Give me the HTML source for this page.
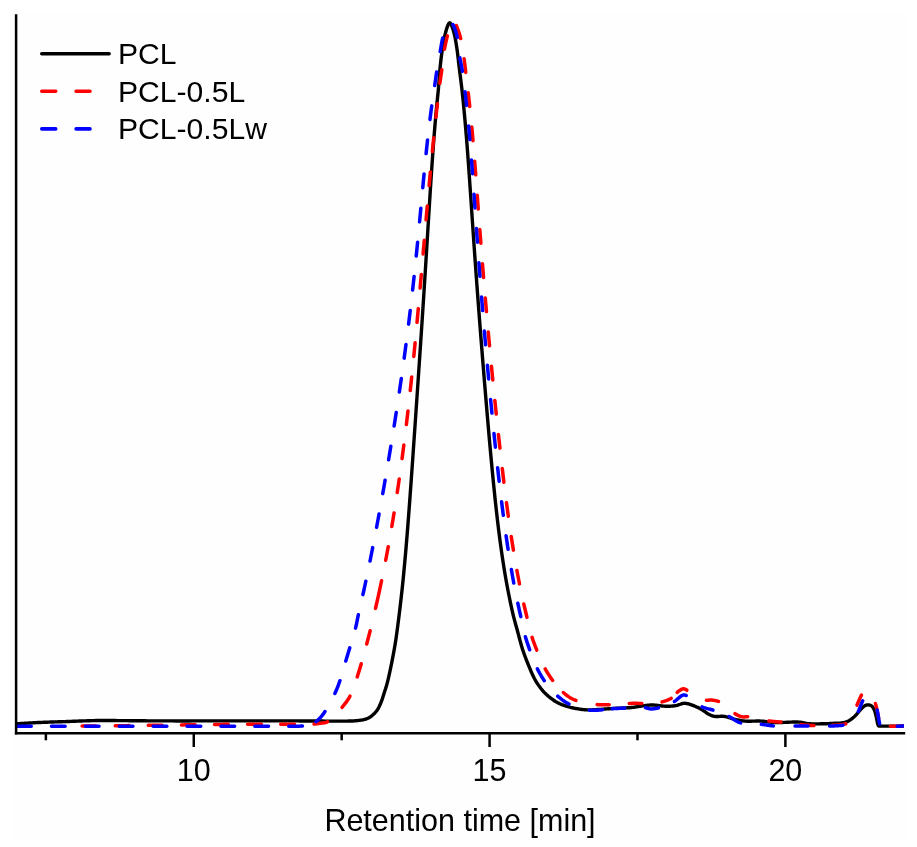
<!DOCTYPE html>
<html><head><meta charset="utf-8"><title>GPC</title>
<style>
html,body{margin:0;padding:0;background:#fff;}
body{width:917px;height:847px;overflow:hidden;}
svg{display:block;will-change:transform;}
text{font-family:"Liberation Sans",sans-serif;fill:#000;}
</style></head><body>
<svg width="917" height="847" viewBox="0 0 917 847">
<rect width="917" height="847" fill="#fff"/>
<rect x="13" y="13" width="894" height="826.5" fill="#fefefe"/>
<defs><clipPath id="plot"><rect x="15" y="0" width="889.1" height="740"/></clipPath></defs>
<g clip-path="url(#plot)" fill="none" stroke-linejoin="round" stroke-linecap="round">
<path d="M16.30 723.80 L17.72 723.72 L19.14 723.63 L20.56 723.55 L21.97 723.46 L23.39 723.38 L24.81 723.29 L26.23 723.20 L27.65 723.12 L29.07 723.03 L30.49 722.95 L31.90 722.87 L33.32 722.79 L34.74 722.71 L36.16 722.64 L37.58 722.57 L39.00 722.50 L40.62 722.43 L42.25 722.36 L43.87 722.30 L45.50 722.24 L47.12 722.18 L48.75 722.12 L50.37 722.07 L52.00 722.01 L53.62 721.96 L55.25 721.91 L56.87 721.86 L58.50 721.81 L60.12 721.76 L61.75 721.71 L63.37 721.65 L65.00 721.60 L67.06 721.53 L69.12 721.45 L71.19 721.38 L73.25 721.30 L75.31 721.22 L77.37 721.14 L79.44 721.06 L81.50 720.99 L83.56 720.91 L85.62 720.84 L87.69 720.77 L89.75 720.70 L91.81 720.64 L93.87 720.59 L95.94 720.54 L98.00 720.50 L99.37 720.48 L100.75 720.46 L102.12 720.46 L103.50 720.45 L104.87 720.45 L106.25 720.46 L107.62 720.47 L109.00 720.48 L110.37 720.50 L111.75 720.51 L113.12 720.53 L114.50 720.55 L115.87 720.56 L117.25 720.58 L118.62 720.59 L120.00 720.60 L122.50 720.62 L125.00 720.64 L127.50 720.66 L130.00 720.68 L132.50 720.70 L135.00 720.72 L137.50 720.75 L140.00 720.77 L142.50 720.79 L145.00 720.81 L147.50 720.83 L150.00 720.85 L152.50 720.87 L155.00 720.88 L157.50 720.89 L160.00 720.90 L164.12 720.91 L168.25 720.92 L172.37 720.92 L176.50 720.93 L180.62 720.93 L184.75 720.93 L188.87 720.93 L193.00 720.92 L197.12 720.92 L201.25 720.92 L205.37 720.91 L209.50 720.91 L213.62 720.91 L217.75 720.90 L221.87 720.90 L226.00 720.90 L230.00 720.90 L234.00 720.90 L238.00 720.90 L242.00 720.89 L246.00 720.89 L250.00 720.89 L254.00 720.89 L258.00 720.88 L262.00 720.88 L266.00 720.88 L270.00 720.88 L274.00 720.88 L278.00 720.88 L282.00 720.89 L286.00 720.89 L290.00 720.90 L292.50 720.91 L295.00 720.91 L297.50 720.92 L300.00 720.94 L302.50 720.95 L305.00 720.96 L307.50 720.98 L310.00 720.99 L312.50 721.01 L315.00 721.02 L317.50 721.04 L320.00 721.05 L322.50 721.07 L325.00 721.08 L327.50 721.09 L330.00 721.10 L330.94 721.10 L331.88 721.11 L332.81 721.11 L333.75 721.12 L334.69 721.12 L335.63 721.12 L336.56 721.13 L337.50 721.13 L338.44 721.13 L339.38 721.13 L340.31 721.13 L341.25 721.13 L342.19 721.12 L343.13 721.12 L344.06 721.11 L345.00 721.10 L345.63 721.09 L346.25 721.09 L346.88 721.08 L347.50 721.08 L348.13 721.07 L348.76 721.07 L349.38 721.06 L350.01 721.05 L350.63 721.03 L351.26 721.01 L351.88 720.99 L352.51 720.97 L353.13 720.93 L353.76 720.90 L354.38 720.85 L355.00 720.80 L355.64 720.74 L356.27 720.69 L356.91 720.63 L357.55 720.57 L358.19 720.50 L358.83 720.43 L359.47 720.36 L360.10 720.28 L360.74 720.19 L361.37 720.09 L362.00 719.99 L362.63 719.87 L363.26 719.75 L363.87 719.61 L364.49 719.46 L365.10 719.30 L365.50 719.18 L365.90 719.06 L366.29 718.92 L366.69 718.77 L367.08 718.61 L367.47 718.44 L367.86 718.26 L368.24 718.08 L368.62 717.88 L368.99 717.68 L369.36 717.47 L369.72 717.25 L370.08 717.02 L370.42 716.79 L370.77 716.55 L371.10 716.30 L371.52 715.98 L371.93 715.64 L372.35 715.30 L372.75 714.95 L373.16 714.59 L373.55 714.23 L373.95 713.86 L374.33 713.47 L374.71 713.09 L375.08 712.69 L375.44 712.29 L375.79 711.88 L376.13 711.47 L376.47 711.05 L376.79 710.63 L377.10 710.20 L377.41 709.74 L377.71 709.28 L378.00 708.81 L378.28 708.32 L378.55 707.83 L378.82 707.34 L379.07 706.84 L379.31 706.33 L379.55 705.82 L379.79 705.31 L380.01 704.79 L380.24 704.27 L380.46 703.75 L380.67 703.23 L380.89 702.72 L381.10 702.20 L381.32 701.65 L381.53 701.10 L381.74 700.54 L381.94 699.99 L382.13 699.43 L382.32 698.86 L382.51 698.30 L382.69 697.74 L382.87 697.17 L383.04 696.60 L383.22 696.03 L383.39 695.47 L383.57 694.90 L383.74 694.33 L383.92 693.77 L384.10 693.20 L384.30 692.57 L384.50 691.94 L384.71 691.31 L384.91 690.69 L385.11 690.06 L385.31 689.43 L385.52 688.80 L385.71 688.17 L385.91 687.54 L386.11 686.91 L386.30 686.27 L386.49 685.64 L386.67 685.01 L386.85 684.37 L387.03 683.74 L387.20 683.10 L387.41 682.29 L387.62 681.49 L387.82 680.68 L388.02 679.87 L388.21 679.06 L388.40 678.24 L388.59 677.43 L388.78 676.62 L388.96 675.81 L389.14 674.99 L389.32 674.18 L389.50 673.36 L389.68 672.55 L389.85 671.73 L390.03 670.92 L390.20 670.10 L390.40 669.16 L390.60 668.22 L390.79 667.28 L390.99 666.33 L391.18 665.39 L391.37 664.45 L391.56 663.50 L391.75 662.56 L391.94 661.62 L392.12 660.67 L392.30 659.73 L392.49 658.78 L392.67 657.84 L392.85 656.89 L393.02 655.95 L393.20 655.00 L393.37 654.06 L393.55 653.13 L393.72 652.19 L393.89 651.26 L394.07 650.32 L394.24 649.39 L394.40 648.45 L394.57 647.51 L394.73 646.57 L394.90 645.64 L395.06 644.70 L395.21 643.76 L395.36 642.82 L395.51 641.88 L395.66 640.94 L395.80 640.00 L396.04 638.38 L396.27 636.76 L396.50 635.13 L396.73 633.51 L396.95 631.89 L397.17 630.26 L397.39 628.64 L397.60 627.01 L397.81 625.39 L398.02 623.76 L398.23 622.13 L398.44 620.51 L398.64 618.88 L398.85 617.25 L399.05 615.63 L399.25 614.00 L399.46 612.25 L399.68 610.50 L399.89 608.75 L400.10 607.01 L400.31 605.26 L400.51 603.51 L400.71 601.76 L400.92 600.01 L401.12 598.26 L401.31 596.51 L401.51 594.76 L401.70 593.01 L401.90 591.25 L402.09 589.50 L402.27 587.75 L402.46 586.00 L402.64 584.25 L402.82 582.50 L403.00 580.75 L403.18 579.00 L403.35 577.26 L403.52 575.51 L403.69 573.76 L403.86 572.01 L404.02 570.26 L404.19 568.50 L404.35 566.75 L404.51 565.00 L404.67 563.25 L404.83 561.50 L404.99 559.75 L405.15 558.00 L405.31 556.25 L405.46 554.50 L405.62 552.75 L405.77 551.00 L405.92 549.25 L406.07 547.50 L406.21 545.75 L406.36 544.00 L406.51 542.25 L406.65 540.50 L406.79 538.75 L406.94 537.00 L407.08 535.25 L407.22 533.50 L407.36 531.75 L407.50 530.00 L407.64 528.25 L407.78 526.50 L407.92 524.75 L408.05 523.00 L408.19 521.25 L408.32 519.50 L408.46 517.75 L408.59 516.00 L408.72 514.25 L408.86 512.50 L408.99 510.75 L409.12 509.00 L409.25 507.25 L409.38 505.50 L409.51 503.75 L409.64 502.00 L409.77 500.25 L409.90 498.50 L410.03 496.75 L410.15 495.00 L410.28 493.25 L410.41 491.50 L410.53 489.75 L410.66 488.00 L410.79 486.25 L410.91 484.50 L411.04 482.75 L411.16 481.00 L411.29 479.25 L411.41 477.50 L411.53 475.75 L411.66 474.00 L411.78 472.25 L411.91 470.50 L412.03 468.75 L412.15 467.00 L412.28 465.25 L412.40 463.50 L412.52 461.75 L412.64 460.00 L412.77 458.25 L412.89 456.50 L413.01 454.75 L413.13 453.00 L413.25 451.25 L413.37 449.50 L413.50 447.75 L413.62 446.00 L413.74 444.25 L413.86 442.50 L413.98 440.75 L414.10 439.00 L414.22 437.25 L414.34 435.50 L414.46 433.75 L414.59 432.00 L414.71 430.25 L414.83 428.50 L414.95 426.75 L415.07 425.00 L415.19 423.25 L415.31 421.50 L415.43 419.75 L415.55 418.00 L415.67 416.25 L415.79 414.50 L415.91 412.75 L416.03 411.00 L416.15 409.25 L416.27 407.50 L416.39 405.75 L416.51 404.00 L416.63 402.25 L416.75 400.50 L416.87 398.75 L416.99 397.00 L417.11 395.25 L417.23 393.50 L417.35 391.75 L417.47 390.00 L417.58 388.25 L417.70 386.50 L417.82 384.75 L417.94 383.00 L418.06 381.25 L418.18 379.50 L418.30 377.75 L418.42 376.00 L418.54 374.25 L418.66 372.50 L418.77 370.75 L418.89 369.00 L419.01 367.25 L419.13 365.50 L419.25 363.75 L419.37 362.00 L419.48 360.25 L419.60 358.50 L419.72 356.75 L419.84 355.00 L419.95 353.25 L420.07 351.50 L420.19 349.75 L420.31 348.00 L420.42 346.25 L420.54 344.50 L420.66 342.75 L420.77 341.00 L420.89 339.25 L421.01 337.50 L421.12 335.75 L421.24 334.00 L421.36 332.25 L421.47 330.50 L421.59 328.75 L421.70 327.00 L421.82 325.25 L421.93 323.50 L422.05 321.75 L422.16 320.00 L422.28 318.25 L422.39 316.50 L422.51 314.75 L422.62 313.00 L422.74 311.25 L422.85 309.50 L422.96 307.75 L423.08 306.00 L423.19 304.25 L423.30 302.50 L423.42 300.75 L423.53 299.00 L423.64 297.25 L423.75 295.50 L423.87 293.75 L423.98 292.00 L424.09 290.25 L424.20 288.50 L424.31 286.75 L424.42 285.00 L424.54 283.25 L424.65 281.50 L424.76 279.75 L424.87 278.00 L424.98 276.25 L425.09 274.50 L425.20 272.75 L425.31 271.00 L425.42 269.25 L425.53 267.50 L425.64 265.75 L425.75 264.00 L425.86 262.25 L425.97 260.50 L426.07 258.75 L426.18 257.00 L426.29 255.25 L426.40 253.50 L426.51 251.75 L426.62 250.00 L426.73 248.25 L426.83 246.50 L426.94 244.75 L427.05 243.00 L427.16 241.25 L427.27 239.50 L427.37 237.75 L427.48 236.00 L427.59 234.25 L427.70 232.50 L427.80 230.75 L427.91 229.00 L428.02 227.25 L428.13 225.50 L428.24 223.75 L428.34 222.00 L428.45 220.25 L428.56 218.50 L428.67 216.75 L428.78 215.00 L428.88 213.25 L428.99 211.50 L429.10 209.75 L429.21 208.00 L429.32 206.25 L429.43 204.50 L429.54 202.75 L429.65 201.00 L429.76 199.25 L429.87 197.50 L429.98 195.75 L430.09 194.00 L430.20 192.25 L430.31 190.50 L430.42 188.75 L430.54 187.00 L430.65 185.25 L430.76 183.50 L430.87 181.75 L430.99 180.00 L431.10 178.25 L431.22 176.50 L431.33 174.75 L431.45 173.00 L431.56 171.25 L431.68 169.50 L431.80 167.75 L431.92 166.00 L432.04 164.25 L432.16 162.50 L432.28 160.75 L432.40 159.00 L432.53 157.25 L432.65 155.50 L432.77 153.75 L432.90 152.00 L433.02 150.25 L433.15 148.50 L433.28 146.75 L433.41 145.00 L433.54 143.25 L433.67 141.50 L433.81 139.75 L433.94 138.00 L434.08 136.25 L434.22 134.50 L434.36 132.75 L434.50 131.00 L434.64 129.25 L434.79 127.50 L434.93 125.75 L435.08 124.00 L435.23 122.25 L435.38 120.50 L435.53 118.75 L435.68 117.00 L435.84 115.25 L435.99 113.50 L436.15 111.75 L436.30 110.00 L436.42 108.75 L436.54 107.50 L436.66 106.25 L436.79 105.00 L436.91 103.75 L437.04 102.50 L437.17 101.25 L437.30 100.00 L437.43 98.75 L437.56 97.50 L437.69 96.25 L437.82 95.00 L437.94 93.75 L438.07 92.50 L438.19 91.25 L438.30 90.00 L438.43 88.54 L438.55 87.09 L438.67 85.63 L438.78 84.18 L438.89 82.72 L439.00 81.26 L439.11 79.80 L439.22 78.35 L439.32 76.89 L439.44 75.43 L439.55 73.98 L439.67 72.52 L439.79 71.06 L439.92 69.61 L440.06 68.15 L440.20 66.70 L440.32 65.52 L440.45 64.33 L440.57 63.15 L440.70 61.96 L440.84 60.78 L440.97 59.60 L441.11 58.41 L441.26 57.23 L441.41 56.05 L441.56 54.87 L441.72 53.69 L441.89 52.51 L442.06 51.33 L442.23 50.15 L442.41 48.98 L442.60 47.80 L442.77 46.74 L442.95 45.68 L443.12 44.63 L443.30 43.57 L443.48 42.51 L443.67 41.45 L443.86 40.39 L444.06 39.34 L444.27 38.28 L444.48 37.23 L444.71 36.18 L444.94 35.14 L445.19 34.10 L445.45 33.06 L445.72 32.03 L446.00 31.00 L446.16 30.44 L446.34 29.82 L446.54 29.18 L446.75 28.51 L446.97 27.83 L447.20 27.14 L447.44 26.47 L447.69 25.82 L447.94 25.21 L448.20 24.64 L448.45 24.12 L448.71 23.68 L448.97 23.31 L449.22 23.03 L449.46 22.86 L449.70 22.80 L449.94 22.86 L450.19 23.03 L450.45 23.31 L450.71 23.68 L450.97 24.12 L451.24 24.64 L451.50 25.21 L451.76 25.82 L452.02 26.47 L452.27 27.14 L452.51 27.82 L452.74 28.50 L452.95 29.17 L453.15 29.82 L453.34 30.43 L453.50 31.00 L453.78 32.03 L454.05 33.06 L454.30 34.09 L454.54 35.13 L454.77 36.18 L454.99 37.23 L455.20 38.28 L455.40 39.33 L455.59 40.39 L455.78 41.45 L455.95 42.51 L456.13 43.57 L456.30 44.62 L456.47 45.68 L456.63 46.74 L456.80 47.80 L456.98 48.98 L457.15 50.15 L457.31 51.33 L457.46 52.51 L457.61 53.69 L457.75 54.87 L457.89 56.05 L458.03 57.24 L458.16 58.42 L458.29 59.60 L458.42 60.79 L458.55 61.97 L458.68 63.15 L458.82 64.34 L458.96 65.52 L459.10 66.70 L459.28 68.16 L459.46 69.61 L459.65 71.07 L459.83 72.52 L460.02 73.98 L460.20 75.44 L460.39 76.89 L460.58 78.35 L460.76 79.80 L460.95 81.26 L461.13 82.71 L461.31 84.17 L461.49 85.63 L461.66 87.08 L461.83 88.54 L462.00 90.00 L462.14 91.25 L462.28 92.50 L462.42 93.75 L462.55 95.00 L462.68 96.24 L462.81 97.49 L462.94 98.74 L463.07 99.99 L463.20 101.24 L463.32 102.50 L463.44 103.75 L463.56 105.00 L463.68 106.25 L463.80 107.50 L463.92 108.75 L464.04 110.00 L464.20 111.75 L464.36 113.50 L464.52 115.25 L464.68 117.00 L464.84 118.75 L465.00 120.50 L465.15 122.25 L465.30 124.00 L465.46 125.75 L465.61 127.50 L465.76 129.25 L465.91 131.00 L466.05 132.75 L466.20 134.50 L466.34 136.25 L466.49 138.00 L466.63 139.75 L466.77 141.50 L466.91 143.25 L467.04 145.00 L467.18 146.75 L467.31 148.50 L467.44 150.25 L467.57 152.00 L467.71 153.75 L467.83 155.50 L467.96 157.25 L468.09 159.00 L468.22 160.75 L468.35 162.50 L468.47 164.25 L468.60 166.00 L468.73 167.75 L468.85 169.50 L468.98 171.25 L469.10 173.00 L469.23 174.75 L469.35 176.50 L469.47 178.25 L469.59 180.00 L469.71 181.75 L469.83 183.50 L469.95 185.25 L470.07 187.00 L470.19 188.75 L470.31 190.50 L470.43 192.25 L470.55 194.00 L470.67 195.75 L470.79 197.50 L470.91 199.25 L471.03 201.00 L471.15 202.75 L471.27 204.50 L471.39 206.25 L471.51 208.00 L471.63 209.75 L471.75 211.50 L471.86 213.25 L471.98 215.00 L472.10 216.75 L472.22 218.50 L472.34 220.25 L472.46 222.00 L472.58 223.75 L472.70 225.50 L472.82 227.25 L472.94 229.00 L473.06 230.75 L473.18 232.50 L473.30 234.25 L473.42 236.00 L473.54 237.75 L473.66 239.50 L473.78 241.25 L473.90 243.00 L474.03 244.75 L474.15 246.50 L474.27 248.25 L474.39 250.00 L474.52 251.75 L474.64 253.50 L474.76 255.25 L474.89 257.00 L475.01 258.75 L475.14 260.50 L475.26 262.25 L475.38 264.00 L475.51 265.75 L475.63 267.50 L475.76 269.25 L475.89 271.00 L476.01 272.75 L476.14 274.50 L476.27 276.25 L476.39 278.00 L476.52 279.75 L476.65 281.50 L476.78 283.25 L476.91 285.00 L477.04 286.75 L477.17 288.50 L477.29 290.25 L477.42 292.00 L477.56 293.75 L477.69 295.50 L477.82 297.25 L477.95 299.00 L478.08 300.75 L478.21 302.50 L478.34 304.25 L478.48 306.00 L478.61 307.75 L478.74 309.50 L478.87 311.25 L479.01 313.00 L479.14 314.75 L479.28 316.50 L479.41 318.25 L479.55 320.00 L479.68 321.75 L479.82 323.50 L479.95 325.25 L480.09 327.00 L480.23 328.75 L480.36 330.50 L480.50 332.25 L480.64 334.00 L480.77 335.75 L480.91 337.50 L481.05 339.25 L481.19 341.00 L481.33 342.75 L481.47 344.50 L481.60 346.25 L481.74 348.00 L481.88 349.75 L482.02 351.50 L482.16 353.25 L482.30 355.00 L482.44 356.75 L482.58 358.50 L482.73 360.25 L482.87 362.00 L483.01 363.75 L483.15 365.50 L483.29 367.25 L483.43 369.00 L483.58 370.75 L483.72 372.50 L483.86 374.25 L484.01 376.00 L484.15 377.75 L484.29 379.50 L484.44 381.25 L484.58 383.00 L484.73 384.75 L484.87 386.50 L485.02 388.25 L485.16 390.00 L485.31 391.75 L485.45 393.50 L485.60 395.25 L485.75 397.00 L485.89 398.75 L486.04 400.50 L486.19 402.25 L486.33 404.00 L486.48 405.75 L486.63 407.50 L486.78 409.25 L486.93 411.00 L487.08 412.75 L487.22 414.50 L487.37 416.25 L487.52 418.00 L487.68 419.75 L487.83 421.50 L487.98 423.25 L488.13 425.00 L488.28 426.75 L488.43 428.50 L488.59 430.25 L488.74 432.00 L488.89 433.75 L489.05 435.50 L489.20 437.25 L489.35 439.00 L489.51 440.75 L489.67 442.50 L489.82 444.25 L489.98 446.00 L490.14 447.75 L490.30 449.50 L490.46 451.25 L490.62 453.00 L490.78 454.75 L490.94 456.50 L491.10 458.25 L491.26 460.00 L491.42 461.75 L491.59 463.50 L491.75 465.25 L491.91 467.00 L492.08 468.75 L492.25 470.50 L492.42 472.25 L492.59 474.00 L492.76 475.75 L492.93 477.50 L493.10 479.25 L493.27 481.00 L493.44 482.75 L493.62 484.50 L493.79 486.25 L493.97 488.00 L494.15 489.75 L494.33 491.50 L494.51 493.25 L494.69 495.00 L494.87 496.75 L495.06 498.50 L495.24 500.25 L495.43 502.00 L495.62 503.75 L495.81 505.50 L496.01 507.25 L496.20 509.00 L496.39 510.76 L496.59 512.51 L496.79 514.26 L496.99 516.01 L497.19 517.76 L497.39 519.51 L497.60 521.26 L497.80 523.01 L498.01 524.76 L498.23 526.50 L498.44 528.25 L498.66 530.00 L498.88 531.75 L499.10 533.50 L499.33 535.26 L499.55 537.01 L499.78 538.76 L500.01 540.51 L500.24 542.26 L500.48 544.01 L500.72 545.76 L500.96 547.51 L501.20 549.26 L501.45 551.01 L501.70 552.76 L501.95 554.51 L502.21 556.25 L502.47 558.00 L502.74 559.75 L503.00 561.51 L503.27 563.26 L503.55 565.01 L503.82 566.77 L504.10 568.52 L504.39 570.27 L504.67 572.02 L504.96 573.77 L505.26 575.52 L505.56 577.27 L505.86 579.02 L506.17 580.77 L506.48 582.51 L506.80 584.26 L507.12 586.00 L507.46 587.76 L507.79 589.51 L508.13 591.27 L508.48 593.02 L508.83 594.77 L509.18 596.53 L509.54 598.28 L509.90 600.03 L510.27 601.78 L510.64 603.53 L511.02 605.28 L511.40 607.02 L511.78 608.77 L512.17 610.51 L512.56 612.26 L512.96 614.00 L513.20 615.03 L513.45 616.05 L513.70 617.07 L513.96 618.09 L514.23 619.12 L514.50 620.13 L514.77 621.15 L515.05 622.17 L515.33 623.19 L515.61 624.20 L515.89 625.22 L516.18 626.23 L516.46 627.25 L516.74 628.27 L517.02 629.28 L517.30 630.30 L517.62 631.50 L517.94 632.69 L518.26 633.89 L518.57 635.09 L518.89 636.29 L519.20 637.49 L519.52 638.69 L519.84 639.89 L520.16 641.08 L520.49 642.28 L520.82 643.47 L521.16 644.66 L521.50 645.85 L521.86 647.04 L522.22 648.22 L522.60 649.40 L522.95 650.48 L523.32 651.55 L523.68 652.63 L524.06 653.70 L524.44 654.77 L524.83 655.83 L525.23 656.90 L525.63 657.96 L526.04 659.02 L526.45 660.08 L526.86 661.14 L527.28 662.19 L527.71 663.25 L528.14 664.30 L528.57 665.35 L529.00 666.40 L529.37 667.30 L529.74 668.20 L530.11 669.09 L530.49 669.99 L530.86 670.89 L531.24 671.79 L531.63 672.68 L532.02 673.58 L532.42 674.46 L532.82 675.35 L533.24 676.22 L533.67 677.09 L534.10 677.96 L534.56 678.81 L535.02 679.66 L535.50 680.50 L535.96 681.28 L536.43 682.05 L536.91 682.82 L537.41 683.59 L537.91 684.35 L538.42 685.11 L538.94 685.86 L539.47 686.60 L540.02 687.34 L540.57 688.06 L541.13 688.78 L541.71 689.49 L542.29 690.18 L542.88 690.87 L543.49 691.54 L544.10 692.20 L544.71 692.84 L545.34 693.46 L545.98 694.08 L546.62 694.69 L547.28 695.29 L547.95 695.88 L548.63 696.47 L549.32 697.04 L550.02 697.60 L550.73 698.15 L551.44 698.69 L552.16 699.21 L552.89 699.73 L553.62 700.23 L554.36 700.72 L555.10 701.20 L555.74 701.60 L556.40 701.98 L557.06 702.36 L557.73 702.72 L558.41 703.07 L559.09 703.41 L559.78 703.73 L560.48 704.05 L561.19 704.35 L561.89 704.65 L562.61 704.93 L563.32 705.20 L564.04 705.47 L564.76 705.72 L565.48 705.97 L566.20 706.20 L567.05 706.46 L567.91 706.71 L568.77 706.95 L569.63 707.17 L570.50 707.39 L571.38 707.59 L572.25 707.78 L573.13 707.97 L574.01 708.14 L574.90 708.31 L575.78 708.47 L576.66 708.63 L577.55 708.78 L578.43 708.92 L579.32 709.06 L580.20 709.20 L580.81 709.29 L581.41 709.38 L582.02 709.46 L582.63 709.53 L583.25 709.60 L583.86 709.66 L584.47 709.72 L585.09 709.77 L585.70 709.81 L586.31 709.84 L586.93 709.87 L587.54 709.89 L588.16 709.91 L588.77 709.91 L589.39 709.91 L590.00 709.90 L591.50 709.86 L593.00 709.80 L594.50 709.73 L596.00 709.65 L597.50 709.56 L599.00 709.46 L600.50 709.36 L602.00 709.25 L603.50 709.14 L605.00 709.03 L606.50 708.91 L608.00 708.80 L609.50 708.69 L611.00 708.59 L612.50 708.49 L614.00 708.40 L615.11 708.34 L616.21 708.29 L617.32 708.24 L618.43 708.19 L619.53 708.15 L620.64 708.11 L621.75 708.06 L622.86 708.02 L623.96 707.98 L625.07 707.93 L626.18 707.87 L627.28 707.82 L628.39 707.75 L629.49 707.68 L630.60 707.59 L631.70 707.50 L632.47 707.42 L633.24 707.34 L634.01 707.24 L634.78 707.13 L635.55 707.02 L636.32 706.90 L637.09 706.77 L637.85 706.64 L638.62 706.52 L639.39 706.39 L640.16 706.26 L640.92 706.14 L641.69 706.02 L642.46 705.90 L643.23 705.80 L644.00 705.70 L644.54 705.63 L645.08 705.57 L645.63 705.50 L646.17 705.44 L646.71 705.37 L647.26 705.31 L647.80 705.25 L648.35 705.20 L648.89 705.14 L649.44 705.10 L649.98 705.06 L650.52 705.03 L651.07 705.01 L651.61 705.00 L652.16 704.99 L652.70 705.00 L653.46 705.03 L654.23 705.07 L654.99 705.14 L655.75 705.21 L656.51 705.30 L657.27 705.39 L658.04 705.49 L658.80 705.59 L659.56 705.69 L660.32 705.79 L661.08 705.89 L661.85 705.97 L662.61 706.05 L663.37 706.12 L664.14 706.17 L664.90 706.20 L665.56 706.22 L666.21 706.23 L666.87 706.24 L667.53 706.24 L668.19 706.23 L668.85 706.22 L669.51 706.20 L670.17 706.18 L670.82 706.14 L671.48 706.11 L672.14 706.06 L672.79 706.00 L673.45 705.94 L674.10 705.87 L674.75 705.79 L675.40 705.70 L676.01 705.59 L676.62 705.46 L677.22 705.29 L677.82 705.10 L678.43 704.90 L679.03 704.69 L679.63 704.48 L680.23 704.26 L680.83 704.06 L681.42 703.86 L682.02 703.69 L682.62 703.54 L683.21 703.42 L683.81 703.34 L684.40 703.29 L685.00 703.30 L685.71 703.36 L686.43 703.45 L687.14 703.57 L687.85 703.73 L688.57 703.91 L689.28 704.11 L689.99 704.34 L690.71 704.58 L691.42 704.84 L692.12 705.11 L692.83 705.38 L693.53 705.67 L694.23 705.95 L694.92 706.24 L695.61 706.52 L696.30 706.80 L696.76 706.99 L697.21 707.19 L697.66 707.40 L698.11 707.62 L698.55 707.84 L698.99 708.07 L699.43 708.31 L699.87 708.56 L700.30 708.81 L700.73 709.06 L701.16 709.31 L701.59 709.57 L702.02 709.83 L702.45 710.09 L702.87 710.34 L703.30 710.60 L703.63 710.81 L703.96 711.02 L704.29 711.24 L704.61 711.47 L704.93 711.70 L705.25 711.93 L705.56 712.16 L705.88 712.40 L706.20 712.63 L706.52 712.86 L706.84 713.08 L707.16 713.30 L707.49 713.52 L707.82 713.72 L708.16 713.92 L708.50 714.10 L708.86 714.28 L709.23 714.47 L709.59 714.65 L709.97 714.83 L710.34 715.01 L710.72 715.18 L711.09 715.34 L711.48 715.50 L711.86 715.65 L712.25 715.80 L712.63 715.93 L713.02 716.05 L713.42 716.16 L713.81 716.25 L714.20 716.33 L714.60 716.40 L715.19 716.47 L715.78 716.51 L716.37 716.53 L716.97 716.53 L717.58 716.51 L718.18 716.48 L718.79 716.44 L719.39 716.40 L720.00 716.36 L720.61 716.32 L721.21 716.29 L721.81 716.27 L722.42 716.27 L723.01 716.29 L723.61 716.33 L724.20 716.40 L724.87 716.51 L725.53 716.64 L726.19 716.79 L726.85 716.96 L727.50 717.14 L728.15 717.33 L728.81 717.54 L729.46 717.75 L730.11 717.96 L730.76 718.17 L731.41 718.38 L732.07 718.58 L732.72 718.78 L733.38 718.97 L734.04 719.14 L734.70 719.30 L735.35 719.45 L736.00 719.59 L736.65 719.73 L737.30 719.87 L737.96 720.01 L738.61 720.15 L739.27 720.28 L739.92 720.40 L740.58 720.52 L741.24 720.63 L741.90 720.73 L742.56 720.83 L743.22 720.91 L743.88 720.98 L744.54 721.05 L745.20 721.10 L746.18 721.16 L747.15 721.19 L748.13 721.21 L749.11 721.22 L750.10 721.21 L751.08 721.19 L752.06 721.17 L753.04 721.14 L754.03 721.11 L755.01 721.09 L755.99 721.06 L756.98 721.05 L757.96 721.04 L758.94 721.04 L759.92 721.06 L760.90 721.10 L761.77 721.15 L762.64 721.22 L763.51 721.30 L764.38 721.39 L765.25 721.50 L766.11 721.61 L766.98 721.72 L767.85 721.84 L768.72 721.95 L769.58 722.06 L770.45 722.17 L771.32 722.26 L772.19 722.34 L773.06 722.41 L773.93 722.47 L774.80 722.50 L776.30 722.53 L777.81 722.53 L779.32 722.52 L780.82 722.49 L782.33 722.44 L783.84 722.39 L785.35 722.33 L786.86 722.27 L788.36 722.21 L789.87 722.16 L791.38 722.11 L792.89 722.07 L794.39 722.05 L795.90 722.04 L797.40 722.06 L798.90 722.10 L799.50 722.13 L800.11 722.19 L800.71 722.27 L801.31 722.37 L801.91 722.48 L802.51 722.61 L803.10 722.74 L803.70 722.87 L804.30 723.01 L804.90 723.14 L805.49 723.27 L806.09 723.39 L806.69 723.49 L807.29 723.58 L807.90 723.65 L808.50 723.70 L809.60 723.76 L810.69 723.80 L811.79 723.84 L812.89 723.86 L813.99 723.87 L815.09 723.88 L816.19 723.87 L817.29 723.86 L818.39 723.85 L819.49 723.83 L820.60 723.81 L821.70 723.79 L822.80 723.76 L823.90 723.74 L825.00 723.72 L826.10 723.70 L826.59 723.69 L827.09 723.68 L827.58 723.66 L828.08 723.64 L828.57 723.61 L829.06 723.58 L829.56 723.56 L830.05 723.53 L830.54 723.49 L831.04 723.46 L831.53 723.43 L832.02 723.40 L832.52 723.37 L833.01 723.35 L833.51 723.32 L834.00 723.30 L834.41 723.29 L834.81 723.28 L835.22 723.27 L835.63 723.27 L836.04 723.27 L836.45 723.28 L836.85 723.28 L837.26 723.28 L837.67 723.28 L838.08 723.27 L838.48 723.26 L838.89 723.25 L839.29 723.22 L839.70 723.19 L840.10 723.15 L840.50 723.10 L840.94 723.04 L841.39 722.97 L841.84 722.91 L842.29 722.83 L842.74 722.76 L843.19 722.68 L843.64 722.59 L844.09 722.50 L844.53 722.40 L844.97 722.29 L845.41 722.17 L845.84 722.04 L846.26 721.90 L846.68 721.75 L847.09 721.58 L847.50 721.40 L847.97 721.17 L848.43 720.94 L848.89 720.68 L849.34 720.42 L849.79 720.14 L850.23 719.86 L850.67 719.56 L851.11 719.26 L851.54 718.95 L851.97 718.63 L852.39 718.30 L852.80 717.97 L853.21 717.63 L853.61 717.29 L854.01 716.95 L854.40 716.60 L854.82 716.21 L855.23 715.81 L855.62 715.40 L856.01 714.97 L856.39 714.54 L856.76 714.10 L857.14 713.66 L857.50 713.21 L857.87 712.76 L858.23 712.32 L858.60 711.87 L858.97 711.42 L859.34 710.98 L859.72 710.55 L860.11 710.12 L860.50 709.70 L860.76 709.43 L861.02 709.16 L861.28 708.89 L861.54 708.61 L861.80 708.34 L862.06 708.07 L862.33 707.80 L862.60 707.54 L862.87 707.28 L863.15 707.03 L863.43 706.78 L863.71 706.55 L864.00 706.32 L864.30 706.10 L864.60 705.89 L864.90 705.70 L865.09 705.59 L865.29 705.49 L865.49 705.40 L865.70 705.31 L865.92 705.23 L866.14 705.16 L866.37 705.10 L866.59 705.04 L866.82 705.00 L867.05 704.96 L867.28 704.93 L867.51 704.91 L867.74 704.89 L867.96 704.89 L868.18 704.89 L868.40 704.90 L868.63 704.92 L868.86 704.95 L869.09 704.98 L869.33 705.03 L869.56 705.08 L869.80 705.14 L870.04 705.21 L870.27 705.28 L870.50 705.37 L870.73 705.46 L870.94 705.56 L871.15 705.67 L871.36 705.79 L871.55 705.92 L871.73 706.06 L871.90 706.20 L872.11 706.41 L872.32 706.63 L872.52 706.86 L872.71 707.11 L872.89 707.36 L873.07 707.63 L873.24 707.90 L873.40 708.18 L873.56 708.46 L873.71 708.75 L873.85 709.04 L873.99 709.33 L874.12 709.63 L874.25 709.92 L874.38 710.21 L874.50 710.50 L874.65 710.86 L874.78 711.23 L874.91 711.60 L875.03 711.98 L875.15 712.36 L875.26 712.74 L875.36 713.12 L875.46 713.51 L875.56 713.89 L875.66 714.28 L875.75 714.67 L875.84 715.05 L875.93 715.44 L876.02 715.83 L876.11 716.21 L876.20 716.60 L876.30 717.02 L876.39 717.45 L876.48 717.87 L876.57 718.30 L876.65 718.72 L876.73 719.15 L876.81 719.58 L876.89 720.01 L876.97 720.43 L877.05 720.86 L877.13 721.29 L877.21 721.71 L877.30 722.14 L877.40 722.56 L877.50 722.98 L877.60 723.40 L877.64 723.56 L877.69 723.73 L877.73 723.90 L877.78 724.07 L877.83 724.24 L877.88 724.42 L877.93 724.59 L877.99 724.75 L878.05 724.92 L878.11 725.08 L878.18 725.23 L878.25 725.38 L878.33 725.52 L878.42 725.66 L878.50 725.78 L878.60 725.90 L878.66 725.95 L878.72 726.00 L878.79 726.03 L878.87 726.06 L878.95 726.08 L879.04 726.10 L879.13 726.11 L879.23 726.11 L879.32 726.12 L879.42 726.12 L879.52 726.11 L879.62 726.11 L879.72 726.11 L879.82 726.10 L879.91 726.10 L880.00 726.10 L881.49 726.11 L882.99 726.12 L884.48 726.12 L885.97 726.13 L887.47 726.13 L888.96 726.13 L890.45 726.13 L891.95 726.12 L893.44 726.12 L894.94 726.12 L896.43 726.11 L897.92 726.11 L899.42 726.11 L900.91 726.10 L902.41 726.10 L903.90 726.10" stroke="#000" stroke-width="3.4"/>
<g stroke-width="3.5">
<path d="M72.00 725.99 L72.50 725.99 L78.00 725.98 L83.50 725.97 L89.00 725.95 L94.50 725.93 L100.00 725.90 L103.75 725.88 L107.50 725.85 L111.25 725.82 L115.00 725.78 L118.75 725.74 L122.50 725.70 L126.25 725.65 L130.00 725.60 L133.75 725.56 L137.50 725.50 L141.25 725.45 L145.00 725.40 L148.75 725.35 L152.50 725.30 L156.25 725.25 L160.00 725.20 L163.13 725.16 L166.25 725.12 L169.38 725.07 L172.50 725.02 L175.62 724.98 L178.75 724.93 L181.87 724.88 L185.00 724.83 L188.12 724.79 L191.25 724.74 L194.37 724.69 L197.50 724.65 L200.62 724.61 L203.75 724.57 L206.87 724.53 L210.00 724.50 L213.12 724.47 L216.25 724.44 L219.37 724.42 L222.50 724.39 L225.62 724.37 L228.75 724.35 L231.87 724.33 L235.00 724.31 L238.12 724.29 L241.25 724.28 L244.37 724.26 L247.50 724.25 L250.62 724.23 L253.75 724.22 L256.87 724.21 L260.00 724.20 L262.50 724.19 L265.00 724.19 L267.50 724.18 L270.00 724.18 L272.50 724.18 L275.00 724.18 L277.50 724.18 L280.00 724.18 L282.50 724.19 L285.00 724.19 L287.50 724.19 L290.00 724.19 L292.50 724.20 L295.00 724.20 L297.50 724.20 L300.00 724.20 L300.75 724.20 L301.50 724.21 L302.00 724.21" stroke="#ff0000" stroke-dasharray="13.70 19.40" stroke-dashoffset="22.95"/>
<path d="M302.00 724.21 L302.25 724.22 L303.00 724.23 L303.75 724.24 L304.50 724.25 L305.25 724.26 L306.00 724.27 L306.75 724.27 L307.50 724.28 L308.25 724.28 L309.00 724.28 L309.75 724.27 L310.50 724.25 L311.25 724.23 L312.00 724.20 L312.50 724.17 L313.00 724.15 L313.51 724.11 L314.01 724.07 L314.51 724.03 L315.01 723.98 L315.51 723.93 L316.01 723.87 L316.51 723.81 L317.01 723.75 L317.51 723.68 L318.01 723.61 L318.51 723.54 L319.01 723.46 L319.50 723.38 L320.00 723.30 L320.51 723.22 L321.03 723.16 L321.55 723.10 L322.08 723.04 L322.61 722.99 L323.15 722.93 L323.68 722.87 L324.20 722.80 L324.72 722.72 L325.23 722.62 L325.73 722.50 L326.22 722.36 L326.69 722.20 L327.15 722.00 L327.58 721.77 L328.00 721.50 L328.93 720.82 L329.84 720.10 L330.73 719.36 L331.62 718.59 L332.49 717.79 L333.35 716.96 L334.19 716.12 L335.03 715.26 L335.85 714.39 L336.67 713.50 L337.48 712.61 L338.27 711.71 L339.07 710.81 L339.85 709.90 L340.63 709.00 L341.40 708.10 L342.02 707.38 L342.64 706.65 L343.25 705.92 L343.86 705.19 L344.47 704.44 L345.06 703.69 L345.65 702.93 L346.23 702.17 L346.79 701.39 L347.34 700.61 L347.87 699.82 L348.38 699.01 L348.87 698.20 L349.34 697.38 L349.78 696.54 L350.20 695.70 L350.89 694.22 L351.55 692.72 L352.19 691.21 L352.80 689.69 L353.39 688.15 L353.97 686.61 L354.53 685.05 L355.07 683.49 L355.60 681.93 L356.12 680.35 L356.63 678.78 L357.13 677.20 L357.62 675.62 L358.12 674.05 L358.61 672.47 L359.10 670.90 L359.73 668.86 L360.35 666.82 L360.96 664.77 L361.56 662.73 L362.16 660.67 L362.74 658.62 L363.31 656.56 L363.88 654.51 L364.45 652.44 L365.00 650.38 L365.56 648.32 L366.11 646.26 L366.66 644.19 L367.21 642.13 L367.75 640.06 L368.30 638.00 L368.69 636.51 L369.08 635.01 L369.47 633.52 L369.85 632.02 L370.22 630.52 L370.60 629.02 L370.97 627.52 L371.33 626.02 L371.70 624.52 L372.06 623.02 L372.42 621.52 L372.77 620.01 L373.13 618.51 L373.48 617.01 L373.84 615.50 L373.96 615.00" stroke="#ff0000" stroke-dasharray="13.70 20.60" stroke-dashoffset="22.22"/>
<path d="M382.76 575.00 L383.01 573.76 L383.37 572.01 L383.72 570.26 L384.07 568.51 L384.41 566.76 L384.76 565.01 L385.10 563.26 L385.44 561.51 L385.78 559.75 L386.12 558.00 L386.45 556.25 L386.78 554.51 L387.11 552.76 L387.44 551.01 L387.76 549.26 L388.09 547.51 L388.41 545.76 L388.73 544.01 L389.04 542.26 L389.36 540.51 L389.67 538.76 L389.98 537.01 L390.29 535.26 L390.60 533.50 L390.90 531.75 L391.21 530.00 L391.51 528.25 L391.81 526.50 L392.10 524.76 L392.40 523.01 L392.69 521.26 L392.98 519.51 L393.27 517.76 L393.56 516.01 L393.84 514.26 L394.13 512.51 L394.41 510.76 L394.69 509.01 L394.97 507.26 L395.24 505.50 L395.52 503.75 L395.79 502.00 L396.07 500.25 L396.34 498.50 L396.61 496.75 L396.87 495.01 L397.14 493.26 L397.40 491.51 L397.66 489.76 L397.92 488.01 L398.18 486.26 L398.44 484.51 L398.69 482.76 L398.94 481.01 L399.20 479.25 L399.45 477.50 L399.70 475.75 L399.95 474.00 L400.19 472.25 L400.44 470.50 L400.68 468.75 L400.92 467.00 L401.16 465.26 L401.40 463.51 L401.64 461.76 L401.87 460.01 L402.11 458.26 L402.34 456.51 L402.57 454.75 L402.80 453.00 L403.03 451.25 L403.26 449.50 L403.49 447.75 L403.71 446.00 L403.94 444.25 L404.16 442.50 L404.38 440.75 L404.60 439.00 L404.82 437.25 L405.04 435.50 L405.25 433.75 L405.47 432.00 L405.68 430.25 L405.90 428.50 L406.11 426.75 L406.32 425.00 L406.53 423.25 L406.74 421.50 L406.94 419.75 L407.15 418.00 L407.35 416.25 L407.56 414.50 L407.76 412.75 L407.96 411.00 L408.16 409.25 L408.36 407.50 L408.56 405.75 L408.76 404.00 L408.95 402.25 L409.15 400.50 L409.34 398.75 L409.54 397.00 L409.73 395.25 L409.92 393.50 L410.11 391.75 L410.30 390.00 L410.49 388.25 L410.68 386.50 L410.87 384.75 L411.05 383.00 L411.24 381.25 L411.42 379.50 L411.60 377.75 L411.79 376.00 L411.97 374.25 L412.15 372.50 L412.33 370.75 L412.51 369.00 L412.69 367.25 L412.86 365.50 L413.04 363.75 L413.22 362.00 L413.39 360.25 L413.57 358.50 L413.74 356.75 L413.92 355.00 L414.09 353.25 L414.26 351.50 L414.43 349.75 L414.60 348.00 L414.77 346.25 L414.94 344.50 L415.11 342.75 L415.28 341.00 L415.44 339.25 L415.61 337.50 L415.78 335.75 L415.94 334.00 L416.11 332.25 L416.27 330.50 L416.44 328.75 L416.60 327.00 L416.76 325.25 L416.93 323.50 L417.09 321.75 L417.25 320.00 L417.41 318.25 L417.57 316.50 L417.73 314.75 L417.89 313.00 L418.05 311.25 L418.21 309.50 L418.37 307.75 L418.52 306.00 L418.68 304.25 L418.84 302.50 L419.00 300.75 L419.15 299.00 L419.31 297.25 L419.47 295.50 L419.62 293.75 L419.78 292.00 L419.93 290.25 L420.08 288.50 L420.24 286.75 L420.39 285.00 L420.55 283.25 L420.70 281.50 L420.85 279.75 L421.01 278.00 L421.16 276.25 L421.31 274.50 L421.47 272.75 L421.62 271.00 L421.77 269.25 L421.92 267.50 L422.08 265.75 L422.23 264.00 L422.38 262.25 L422.53 260.50 L422.68 258.75 L422.83 257.00 L422.98 255.25 L423.14 253.50 L423.29 251.75 L423.44 250.00 L423.59 248.25 L423.74 246.50 L423.89 244.75 L424.05 243.00 L424.20 241.25 L424.35 239.50 L424.50 237.75 L424.65 236.00 L424.80 234.25 L424.96 232.50 L425.11 230.75 L425.26 229.00 L425.41 227.25 L425.56 225.50 L425.72 223.75 L425.87 222.00 L426.02 220.25 L426.18 218.50 L426.33 216.75 L426.49 215.00 L426.64 213.25 L426.79 211.50 L426.95 209.75 L427.10 208.00 L427.26 206.25 L427.41 204.50 L427.57 202.75 L427.72 201.00 L427.88 199.25 L428.04 197.50 L428.20 195.75 L428.35 194.00 L428.51 192.25 L428.67 190.50 L428.83 188.75 L428.99 187.00 L429.15 185.25 L429.31 183.50 L429.47 181.75 L429.63 180.00 L429.80 178.25 L429.96 176.50 L430.12 174.75 L430.28 173.00 L430.45 171.25 L430.61 169.50 L430.78 167.75 L430.95 166.00 L431.11 164.25 L431.28 162.50 L431.45 160.75 L431.62 159.00 L431.79 157.25 L431.96 155.50 L432.13 153.75 L432.30 152.00 L432.48 150.25 L432.65 148.50 L432.82 146.75 L433.00 145.00 L433.17 143.25 L433.35 141.50 L433.53 139.75 L433.71 138.00 L433.89 136.25 L434.07 134.50 L434.25 132.75 L434.44 131.00 L434.62 129.25 L434.80 127.50 L434.99 125.75 L435.18 124.00 L435.36 122.25 L435.55 120.50 L435.74 118.75 L435.93 117.00 L436.12 115.25 L436.32 113.50 L436.51 111.75 L436.71 110.00 L436.89 108.36 L437.08 106.71 L437.26 105.07 L437.45 103.42 L437.64 101.78 L437.82 100.13 L438.01 98.49 L438.21 96.84 L438.40 95.20 L438.59 93.56 L438.79 91.91 L438.99 90.27 L439.19 88.63 L439.39 86.98 L439.59 85.34 L439.80 83.70 L439.93 82.69 L440.07 81.68 L440.20 80.68 L440.34 79.67 L440.49 78.66 L440.64 77.66 L440.78 76.65 L440.93 75.65 L441.08 74.64 L441.23 73.64 L441.38 72.63 L441.53 71.63 L441.67 70.62 L441.82 69.61 L441.96 68.61 L442.10 67.60 L442.25 66.45 L442.40 65.30 L442.54 64.15 L442.68 63.00 L442.82 61.84 L442.95 60.69 L443.09 59.54 L443.22 58.39 L443.36 57.23 L443.51 56.08 L443.65 54.93 L443.81 53.78 L443.97 52.64 L444.13 51.49 L444.31 50.34 L444.50 49.20 L444.67 48.25 L444.84 47.30 L445.02 46.35 L445.20 45.40 L445.39 44.45 L445.59 43.51 L445.79 42.56 L446.00 41.62 L446.21 40.67 L446.43 39.73 L446.65 38.79 L446.87 37.85 L447.10 36.91 L447.33 35.97 L447.56 35.04 L447.80 34.10 L447.94 33.55 L448.08 33.01 L448.22 32.46 L448.36 31.91 L448.51 31.36 L448.65 30.81 L448.81 30.26 L448.97 29.72 L449.13 29.17 L449.30 28.63 L449.48 28.10 L449.66 27.57 L449.86 27.04 L450.06 26.52 L450.28 26.01 L450.50 25.50 L450.61 25.26 L450.74 25.01 L450.88 24.76 L451.03 24.50 L451.18 24.24 L451.35 23.99 L451.52 23.74 L451.70 23.50 L451.80 23.38" stroke="#ff0000" stroke-dasharray="13.70 20.60" stroke-dashoffset="19.22"/>
<path d="M451.80 23.38 L451.88 23.27 L452.07 23.06 L452.26 22.87 L452.45 22.70 L452.64 22.56 L452.83 22.44 L453.02 22.35 L453.20 22.30 L453.35 22.29 L453.52 22.31 L453.69 22.36 L453.87 22.44 L454.06 22.54 L454.25 22.67 L454.43 22.81 L454.62 22.97 L454.80 23.14 L454.98 23.32 L455.15 23.51 L455.31 23.71 L455.45 23.91 L455.59 24.11 L455.70 24.31 L455.80 24.50 L456.16 25.29 L456.52 26.09 L456.87 26.90 L457.20 27.72 L457.53 28.54 L457.85 29.38 L458.16 30.21 L458.46 31.06 L458.75 31.90 L459.03 32.75 L459.30 33.61 L459.56 34.46 L459.81 35.32 L460.05 36.18 L460.28 37.04 L460.50 37.90 L460.78 39.06 L461.04 40.23 L461.29 41.40 L461.53 42.57 L461.75 43.75 L461.96 44.93 L462.17 46.12 L462.36 47.30 L462.55 48.49 L462.74 49.67 L462.91 50.86 L463.09 52.05 L463.27 53.24 L463.44 54.43 L463.62 55.61 L463.80 56.80 L463.94 57.74 L464.08 58.68 L464.21 59.62 L464.34 60.57 L464.46 61.51 L464.58 62.45 L464.70 63.40 L464.81 64.34 L464.92 65.29 L465.04 66.23 L465.15 67.18 L465.26 68.12 L465.37 69.07 L465.48 70.01 L465.59 70.96 L465.70 71.90 L465.99 74.28 L466.27 76.66 L466.56 79.04 L466.85 81.42 L467.13 83.80 L467.42 86.18 L467.71 88.56 L467.99 90.94 L468.27 93.32 L468.55 95.71 L468.83 98.09 L469.10 100.47 L469.37 102.85 L469.64 105.23 L469.90 107.62 L470.16 110.00 L470.34 111.75 L470.52 113.50 L470.70 115.24 L470.87 116.99 L471.04 118.74 L471.20 120.49 L471.37 122.24 L471.53 123.99 L471.68 125.74 L471.84 127.49 L471.99 129.25 L472.15 131.00 L472.30 132.75 L472.45 134.50 L472.60 136.25 L472.76 138.00 L472.91 139.75 L473.06 141.50 L473.20 143.25 L473.35 145.00 L473.49 146.75 L473.64 148.50 L473.78 150.25 L473.92 152.00 L474.06 153.75 L474.20 155.50 L474.34 157.25 L474.48 159.00 L474.61 160.75 L474.75 162.50 L474.89 164.25 L475.03 166.00 L475.16 167.75 L475.30 169.50 L475.43 171.25 L475.57 173.00 L475.70 174.75 L475.83 176.50 L475.96 178.25 L476.10 180.00 L476.23 181.75 L476.36 183.50 L476.49 185.25 L476.62 187.00 L476.75 188.75 L476.88 190.50 L477.01 192.25 L477.14 194.00 L477.27 195.75 L477.40 197.50 L477.54 199.25 L477.67 201.00 L477.80 202.75 L477.93 204.50 L478.05 206.25 L478.18 208.00 L478.31 209.75 L478.44 211.50 L478.57 213.25 L478.70 215.00 L478.83 216.75 L478.97 218.50 L479.10 220.25 L479.23 222.00 L479.36 223.75 L479.49 225.50 L479.62 227.25 L479.76 229.00 L479.89 230.75 L480.02 232.50 L480.15 234.25 L480.29 236.00 L480.42 237.75 L480.55 239.50 L480.69 241.25 L480.82 243.00 L480.96 244.75 L481.09 246.50 L481.23 248.25 L481.36 250.00 L481.50 251.75 L481.64 253.50 L481.78 255.25 L481.91 257.00 L482.05 258.75 L482.19 260.50 L482.33 262.25 L482.47 264.00 L482.61 265.75 L482.75 267.50 L482.89 269.25 L483.03 271.00 L483.17 272.75 L483.31 274.50 L483.46 276.25 L483.60 278.00 L483.74 279.75 L483.89 281.50 L484.03 283.25 L484.18 285.00 L484.32 286.75 L484.47 288.50 L484.61 290.25 L484.76 292.00 L484.91 293.75 L485.06 295.50 L485.21 297.25 L485.35 299.00 L485.50 300.75 L485.65 302.50 L485.80 304.25 L485.96 306.00 L486.11 307.75 L486.26 309.50 L486.41 311.25 L486.57 313.00 L486.72 314.75 L486.87 316.50 L487.03 318.25 L487.18 320.00 L487.34 321.75 L487.50 323.50 L487.65 325.25 L487.81 327.00 L487.97 328.75 L488.12 330.50 L488.28 332.25 L488.44 334.00 L488.60 335.75 L488.76 337.50 L488.92 339.25 L489.08 341.00 L489.25 342.75 L489.41 344.50 L489.57 346.25 L489.73 348.00 L489.90 349.75 L490.06 351.50 L490.23 353.25 L490.39 355.00 L490.56 356.75 L490.72 358.50 L490.89 360.25 L491.06 362.00 L491.23 363.75 L491.39 365.50 L491.56 367.25 L491.73 369.00 L491.90 370.75 L492.07 372.50 L492.24 374.25 L492.41 376.00 L492.58 377.75 L492.76 379.50 L492.93 381.25 L493.10 383.00 L493.28 384.75 L493.45 386.50 L493.62 388.25 L493.80 390.00 L493.97 391.75 L494.15 393.50 L494.33 395.25 L494.50 397.00 L494.68 398.75 L494.86 400.50 L495.04 402.25 L495.22 404.00 L495.40 405.75 L495.58 407.50 L495.76 409.25 L495.94 411.00 L496.12 412.75 L496.30 414.50 L496.49 416.25 L496.67 418.00 L496.86 419.75 L497.04 421.50 L497.23 423.25 L497.41 425.00 L497.60 426.75 L497.79 428.50 L497.97 430.25 L498.16 432.00 L498.35 433.75 L498.54 435.50 L498.73 437.25 L498.92 439.00 L499.12 440.75 L499.31 442.50 L499.50 444.25 L499.70 446.00 L499.89 447.75 L500.09 449.50 L500.28 451.25 L500.48 453.00 L500.68 454.75 L500.88 456.50 L501.08 458.25 L501.28 460.00 L501.48 461.75 L501.68 463.50 L501.88 465.25 L502.09 467.00 L502.29 468.75 L502.50 470.50 L502.71 472.25 L502.92 474.00 L503.13 475.75 L503.34 477.50 L503.55 479.25 L503.76 481.00 L503.98 482.75 L504.19 484.50 L504.41 486.25 L504.62 488.01 L504.84 489.76 L505.06 491.51 L505.28 493.25 L505.50 495.00 L505.73 496.75 L505.95 498.50 L506.18 500.25 L506.41 502.00 L506.64 503.75 L506.87 505.50 L507.11 507.25 L507.34 509.01 L507.58 510.76 L507.81 512.51 L508.05 514.26 L508.29 516.01 L508.54 517.76 L508.78 519.51 L509.03 521.26 L509.27 523.01 L509.53 524.76 L509.78 526.50 L510.03 528.25 L510.29 530.00 L510.55 531.75 L510.82 533.50 L511.08 535.26 L511.34 537.01 L511.61 538.76 L511.88 540.51 L512.15 542.26 L512.43 544.01 L512.70 545.76 L512.98 547.51 L513.27 549.26 L513.55 551.01 L513.84 552.76 L514.13 554.51 L514.43 556.25 L514.72 558.00 L515.03 559.75 L515.33 561.51 L515.64 563.26 L515.95 565.01 L516.26 566.77 L516.58 568.52 L516.89 570.27 L517.21 572.02 L517.54 573.77 L517.87 575.52 L518.20 577.27 L518.54 579.02 L518.88 580.76 L519.22 582.51 L519.57 584.26 L519.93 586.00 L520.29 587.76 L520.65 589.51 L521.02 591.27 L521.39 593.02 L521.77 594.77 L522.15 596.53 L522.53 598.28 L522.92 600.03 L523.31 601.78 L523.71 603.53 L524.11 605.28 L524.51 607.02 L524.92 608.77 L525.34 610.51 L525.76 612.26 L526.18 614.00 L526.60 615.73 L527.01 617.46 L527.41 619.20 L527.81 620.94 L528.22 622.67 L528.62 624.41 L529.03 626.15 L529.46 627.88 L529.89 629.61 L530.34 631.33 L530.80 633.05 L531.29 634.76 L531.80 636.46 L532.34 638.15 L532.90 639.83 L533.50 641.50 L534.28 643.62 L535.07 645.74 L535.88 647.86 L536.69 649.99 L537.52 652.11 L538.37 654.23 L539.24 656.33 L540.14 658.43 L541.06 660.51 L542.01 662.57 L542.99 664.61 L544.01 666.63 L545.07 668.62 L546.17 670.58 L547.31 672.51 L548.50 674.40 L549.57 676.02 L550.67 677.65 L551.81 679.27 L552.98 680.89 L554.19 682.49 L555.43 684.07 L556.71 685.62 L557.00 685.96" stroke="#ff0000" stroke-dasharray="13.70 20.60" stroke-dashoffset="27.79"/>
<path d="M563.36 692.55 L563.60 692.77 L565.08 694.04 L566.59 695.23 L568.13 696.36 L569.70 697.40 L571.13 698.24 L572.61 699.02 L574.15 699.73 L575.73 700.38 L575.96 700.46" stroke="#ff0000"/>
<path d="M597.14 704.56 L598.71 704.68 L601.12 704.79 L603.55 704.84 L605.97 704.83 L608.41 704.78 L609.15 704.76" stroke="#ff0000"/>
<path d="M629.25 703.53 L630.42 703.47 L632.86 703.37 L635.30 703.30 L635.78 703.30 L636.26 703.30 L636.74 703.32 L637.23 703.34 L637.71 703.37 L638.19 703.40 L638.67 703.44 L639.15 703.47 L639.63 703.51 L640.11 703.54 L640.60 703.57 L641.08 703.59 L641.56 703.61 L641.85 703.61" stroke="#ff0000"/>
<path d="M662.01 701.86 L662.10 701.83 L662.90 701.62 L663.70 701.40 L664.49 701.15 L665.29 700.89 L666.08 700.61 L666.86 700.32 L667.64 700.01 L668.41 699.69 L669.17 699.35 L669.92 699.01 L670.66 698.65 L671.17 698.38" stroke="#ff0000"/>
<path d="M677.19 692.37 L677.42 692.18 L677.84 691.83 L678.27 691.48 L678.70 691.13 L679.14 690.80 L679.58 690.48 L680.03 690.17 L680.48 689.89 L680.94 689.62 L681.39 689.39 L681.84 689.19 L682.30 689.02 L682.75 688.89 L683.20 688.80 L683.52 688.78 L683.85 688.80 L684.18 688.86 L684.52 688.95 L684.85 689.08 L685.19 689.23 L685.53 689.41 L685.87 689.61 L686.21 689.82 L686.55 690.05 L686.88 690.28" stroke="#ff0000"/>
<path d="M706.43 700.24 L706.72 700.25 L707.16 700.24 L707.60 700.22 L708.04 700.19 L708.48 700.16 L708.93 700.13 L709.37 700.09 L709.81 700.06 L710.25 700.04 L710.69 700.03 L711.13 700.04 L711.57 700.06 L712.00 700.10 L712.50 700.16 L713.00 700.23 L713.51 700.30 L714.01 700.37 L714.52 700.45 L715.03 700.54 L715.53 700.63 L716.03 700.73 L716.53 700.84 L717.03 700.96 L717.52 701.08 L718.01 701.22 L718.47 701.37" stroke="#ff0000"/>
<path d="M734.93 713.65 L735.17 713.80 L735.65 714.09 L736.13 714.38 L736.61 714.65 L737.10 714.91 L737.60 715.17 L738.10 715.41 L738.61 715.64 L739.12 715.85 L739.63 716.05 L740.15 716.24 L740.66 716.41 L741.18 716.56 L741.70 716.70 L742.17 716.79 L742.64 716.86 L743.11 716.90 L743.60 716.91 L744.08 716.90 L744.57 716.88 L745.07 716.85 L745.56 716.81 L746.06 716.77 L746.55 716.73 L747.05 716.69 L747.54 716.66 L747.75 716.65" stroke="#ff0000"/>
<path d="M768.83 720.95 L768.95 720.97 L769.93 721.08 L770.91 721.19 L771.89 721.29 L772.87 721.39 L773.85 721.48 L774.84 721.57 L775.82 721.65 L776.81 721.73 L777.79 721.82 L778.77 721.91 L779.76 722.00 L780.74 722.09 L780.96 722.11" stroke="#ff0000"/>
<path d="M800.84 724.59 L800.94 724.60 L801.87 724.69 L802.81 724.78 L803.74 724.87 L804.68 724.96 L805.62 725.05 L806.55 725.13 L807.49 725.20 L808.43 725.28 L809.37 725.34 L810.31 725.40 L811.24 725.46 L812.18 725.50 L813.12 725.54 L813.85 725.57" stroke="#ff0000"/>
<path d="M832.35 725.31 L832.50 725.30 L833.75 725.25 L835.00 725.20 L835.50 725.18 L836.00 725.15 L836.51 725.13 L837.01 725.10 L837.52 725.07 L838.02 725.03 L838.52 725.00 L839.03 724.95 L839.53 724.91 L840.03 724.85 L840.53 724.79 L841.03 724.73 L841.52 724.66 L842.02 724.58 L842.51 724.49 L843.00 724.40 L843.33 724.34 L843.66 724.27 L844.00 724.20 L844.34 724.13 L844.68 724.06 L845.02 723.98 L845.36 723.89 L845.69 723.80 L845.82 723.75" stroke="#ff0000"/>
<path d="M856.95 705.15 L856.99 705.07 L857.37 704.18 L857.75 703.30 L858.13 702.41 L858.51 701.52 L858.89 700.63 L859.28 699.75 L859.67 698.87 L860.06 697.99 L860.47 697.12 L860.88 696.25 L861.31 695.39 L861.43 695.15" stroke="#ff0000"/>
<path d="M875.48 703.49 L875.49 703.56 L875.65 704.19 L875.81 704.81 L875.96 705.43 L876.12 706.06 L876.26 706.68 L876.41 707.31 L876.56 707.94 L876.70 708.56 L876.84 709.19 L876.98 709.82 L877.12 710.44 L877.26 711.07 L877.40 711.70 L877.57 712.50 L877.73 713.30 L877.89 714.10 L878.05 714.91 L878.19 715.71 L878.34 716.52 L878.49 717.33 L878.64 718.13 L878.66 718.23" stroke="#ff0000"/>
<path d="M890.35 726.31 L891.03 726.30 L892.46 726.28 L893.89 726.26 L895.32 726.23 L896.76 726.20 L898.19 726.17 L899.62 726.14 L901.05 726.12 L902.48 726.11 L903.90 726.10" stroke="#ff0000"/>
<path d="M375.49 608.40 L375.81 607.01 L376.21 605.26 L376.61 603.51 L377.01 601.77 L377.40 600.02 L377.79 598.27 L378.18 596.51 L378.57 594.76 L378.95 593.01 L379.34 591.26 L379.72 589.51 L380.09 587.75 L380.47 586.00 L380.84 584.25 L381.21 582.51 L381.57 580.76 L381.59 580.70" stroke="#ff0000"/>
<path d="M12.00 726.20 L17.50 726.20 L23.00 726.20 L28.50 726.20 L34.00 726.20 L39.50 726.20 L45.00 726.20 L50.50 726.20 L56.00 726.20 L61.50 726.20 L67.00 726.20 L72.50 726.20 L78.00 726.20 L83.50 726.20 L89.00 726.20 L94.50 726.20 L100.00 726.20 L106.25 726.20 L112.50 726.20 L118.75 726.20 L125.00 726.20 L131.25 726.20 L137.50 726.20 L143.75 726.20 L150.00 726.20 L156.25 726.20 L162.50 726.20 L168.75 726.20 L175.00 726.20 L181.25 726.20 L187.50 726.20 L193.75 726.20 L200.00 726.20 L205.94 726.20 L211.88 726.21 L217.81 726.21 L223.75 726.22 L229.69 726.23 L235.63 726.24 L241.56 726.25 L247.50 726.26 L253.44 726.26 L259.38 726.27 L265.31 726.27 L271.25 726.26 L277.19 726.26 L283.13 726.24 L289.06 726.22 L295.00 726.20 L295.69 726.20 L296.38 726.19 L297.07 726.19 L297.76 726.18 L298.45 726.17 L299.14 726.15 L299.83 726.13 L300.52 726.11 L301.21 726.08 L301.89 726.05 L302.58 726.01 L303.27 725.96 L303.95 725.91 L304.64 725.85 L305.32 725.78 L306.00 725.70 L306.45 725.65 L306.90 725.60 L307.36 725.55 L307.83 725.50 L308.00 725.48" stroke="#0000ff" stroke-dasharray="13.70 20.20" stroke-dashoffset="28.35"/>
<path d="M308.00 725.48 L308.29 725.44 L308.75 725.38 L309.22 725.32 L309.67 725.24 L310.13 725.15 L310.57 725.04 L311.01 724.92 L311.43 724.78 L311.85 724.62 L312.25 724.44 L312.63 724.23 L313.00 724.00 L313.75 723.47 L314.49 722.92 L315.23 722.34 L315.96 721.75 L316.69 721.14 L317.40 720.51 L318.11 719.87 L318.80 719.20 L319.48 718.52 L320.14 717.83 L320.79 717.12 L321.41 716.40 L322.02 715.67 L322.60 714.92 L323.16 714.17 L323.70 713.40 L324.67 711.95 L325.62 710.48 L326.56 709.00 L327.48 707.50 L328.38 705.98 L329.27 704.46 L330.13 702.91 L330.98 701.36 L331.81 699.80 L332.61 698.22 L333.40 696.64 L334.16 695.04 L334.91 693.44 L335.63 691.83 L336.33 690.22 L337.00 688.60 L337.81 686.56 L338.59 684.50 L339.33 682.42 L340.04 680.34 L340.73 678.24 L341.39 676.14 L342.04 674.02 L342.67 671.90 L343.29 669.78 L343.90 667.65 L344.50 665.52 L345.11 663.39 L345.72 661.26 L346.33 659.13 L346.96 657.01 L347.60 654.90 L348.10 653.29 L348.59 651.67 L349.09 650.06 L349.59 648.44 L350.09 646.83 L350.59 645.21 L351.08 643.60 L351.57 641.98 L352.06 640.36 L352.54 638.75 L353.02 637.13 L353.49 635.50 L353.95 633.88 L354.41 632.26 L354.86 630.63 L355.30 629.00 L355.54 628.07 L355.77 627.14 L355.99 626.21 L356.20 625.28 L356.41 624.34 L356.61 623.40 L356.80 622.46 L356.99 621.52 L357.18 620.58 L357.36 619.64 L357.55 618.70 L357.74 617.76 L357.93 616.82 L358.12 615.88 L358.32 614.94 L358.52 614.00 L358.91 612.25 L359.30 610.50 L359.69 608.75 L360.09 607.00 L360.49 605.25 L360.89 603.50 L361.28 601.75 L361.68 600.00 L362.08 598.25 L362.48 596.51 L362.87 594.76 L363.27 593.01 L363.66 591.26 L364.05 589.50 L364.43 587.75 L364.81 586.00 L365.19 584.25 L365.56 582.51 L365.93 580.76 L366.31 579.01 L366.67 577.26 L367.04 575.51 L367.40 573.76 L367.77 572.01 L368.13 570.26 L368.49 568.51 L368.85 566.76 L369.21 565.01 L369.56 563.26 L369.92 561.50 L370.27 559.75 L370.62 558.00 L370.97 556.25 L371.32 554.50 L371.67 552.76 L372.02 551.01 L372.36 549.26 L372.71 547.51 L373.05 545.76 L373.39 544.01 L373.73 542.26 L374.07 540.51 L374.40 538.76 L374.74 537.01 L375.07 535.25 L375.41 533.50 L375.74 531.75 L376.07 530.00 L376.41 528.25 L376.74 526.50 L377.06 524.75 L377.39 523.00 L377.72 521.26 L378.04 519.51 L378.37 517.76 L378.69 516.01 L379.01 514.26 L379.33 512.51 L379.65 510.75 L379.97 509.00 L380.29 507.25 L380.61 505.50 L380.93 503.75 L381.24 502.00 L381.56 500.25 L381.87 498.50 L382.19 496.75 L382.50 495.00 L382.81 493.25 L383.12 491.50 L383.43 489.75 L383.74 488.00 L384.05 486.25 L384.35 484.50 L384.66 482.75 L384.96 481.00 L385.27 479.25 L385.57 477.50 L385.87 475.75 L386.18 474.00 L386.48 472.25 L386.78 470.50 L387.08 468.75 L387.37 467.00 L387.67 465.25 L387.97 463.50 L388.26 461.75 L388.56 460.00 L388.85 458.25 L389.15 456.50 L389.44 454.75 L389.73 453.00 L390.02 451.25 L390.31 449.50 L390.60 447.75 L390.89 446.00 L391.17 444.25 L391.46 442.50 L391.74 440.75 L392.03 439.00 L392.31 437.25 L392.60 435.50 L392.88 433.75 L393.16 432.00 L393.44 430.25 L393.72 428.50 L394.00 426.75 L394.27 425.00 L394.55 423.25 L394.83 421.50 L395.10 419.75 L395.37 418.00 L395.65 416.25 L395.92 414.50 L396.19 412.75 L396.46 411.00 L396.73 409.25 L397.00 407.50 L397.26 405.75 L397.53 404.00 L397.80 402.25 L398.06 400.50 L398.32 398.75 L398.59 397.00 L398.85 395.25 L399.11 393.50 L399.37 391.75 L399.63 390.00 L399.88 388.25 L400.14 386.50 L400.39 384.75 L400.65 383.00 L400.90 381.25 L401.15 379.50 L401.41 377.75 L401.66 376.00 L401.91 374.25 L402.15 372.50 L402.40 370.75 L402.65 369.00 L402.89 367.25 L403.14 365.50 L403.38 363.75 L403.62 362.00 L403.86 360.25 L404.10 358.50 L404.34 356.75 L404.58 355.00 L404.81 353.25 L405.05 351.50 L405.28 349.75 L405.51 348.00 L405.75 346.25 L405.98 344.50 L406.21 342.75 L406.44 341.00 L406.66 339.25 L406.89 337.50 L407.11 335.75 L407.34 334.00 L407.56 332.25 L407.78 330.50 L408.00 328.75 L408.22 327.00 L408.44 325.25 L408.66 323.50 L408.88 321.75 L409.09 320.00 L409.30 318.25 L409.52 316.50 L409.73 314.75 L409.94 313.00 L410.15 311.25 L410.36 309.50 L410.57 307.75 L410.77 306.00 L410.98 304.25 L411.18 302.50 L411.38 300.75 L411.59 299.00 L411.79 297.25 L411.99 295.50 L412.18 293.75 L412.38 292.00 L412.58 290.25 L412.77 288.50 L412.97 286.75 L413.16 285.00 L413.35 283.25 L413.55 281.50 L413.74 279.75 L413.93 278.00 L414.12 276.25 L414.30 274.50 L414.49 272.75 L414.68 271.00 L414.86 269.25 L415.04 267.50 L415.23 265.75 L415.41 264.00 L415.59 262.25 L415.77 260.50 L415.95 258.75 L416.13 257.00 L416.30 255.25 L416.48 253.50 L416.66 251.75 L416.83 250.00 L417.01 248.25 L417.18 246.50 L417.36 244.75 L417.53 243.00 L417.70 241.25 L417.87 239.50 L418.04 237.75 L418.21 236.00 L418.38 234.25 L418.55 232.50 L418.71 230.75 L418.88 229.00 L419.05 227.25 L419.22 225.50 L419.38 223.75 L419.55 222.00 L419.72 220.25 L419.88 218.50 L420.05 216.75 L420.21 215.00 L420.37 213.25 L420.54 211.50 L420.70 209.75 L420.86 208.00 L421.03 206.25 L421.19 204.50 L421.35 202.75 L421.52 201.00 L421.68 199.25 L421.84 197.50 L422.01 195.75 L422.17 194.00 L422.34 192.25 L422.50 190.50 L422.67 188.75 L422.83 187.00 L423.00 185.25 L423.16 183.50 L423.33 181.75 L423.49 180.00 L423.66 178.25 L423.83 176.50 L423.99 174.75 L424.16 173.00 L424.33 171.25 L424.50 169.50 L424.68 167.75 L424.85 166.00 L425.02 164.25 L425.20 162.50 L425.37 160.75 L425.55 159.00 L425.73 157.25 L425.90 155.50 L426.08 153.75 L426.26 152.00 L426.44 150.24 L426.63 148.49 L426.81 146.75 L427.00 145.00 L427.19 143.25 L427.38 141.50 L427.57 139.75 L427.77 138.00 L427.97 136.25 L428.17 134.50 L428.37 132.75 L428.57 130.99 L428.78 129.24 L428.99 127.49 L429.20 125.74 L429.41 123.99 L429.62 122.24 L429.84 120.49 L430.06 118.74 L430.28 116.99 L430.50 115.24 L430.73 113.50 L430.95 111.75 L431.18 110.00 L431.39 108.47 L431.59 106.95 L431.81 105.42 L432.02 103.89 L432.24 102.37 L432.46 100.84 L432.68 99.32 L432.91 97.80 L433.13 96.27 L433.36 94.75 L433.58 93.22 L433.81 91.70 L434.03 90.17 L434.26 88.65 L434.48 87.12 L434.70 85.60 L434.84 84.65 L434.97 83.70 L435.10 82.75 L435.24 81.80 L435.37 80.85 L435.50 79.90 L435.63 78.95 L435.77 77.99 L435.90 77.04 L436.04 76.09 L436.17 75.14 L436.31 74.19 L436.46 73.24 L436.60 72.30 L436.75 71.35 L436.90 70.40 L437.09 69.22 L437.29 68.05 L437.48 66.87 L437.68 65.69 L437.89 64.52 L438.09 63.34 L438.30 62.17 L438.50 60.99 L438.71 59.82 L438.92 58.64 L439.13 57.47 L439.35 56.29 L439.56 55.12 L439.77 53.95 L439.99 52.77 L440.20 51.60 L440.37 50.65 L440.54 49.69 L440.70 48.74 L440.86 47.78 L441.02 46.83 L441.18 45.87 L441.34 44.91 L441.50 43.96 L441.67 43.01 L441.85 42.05 L442.03 41.10 L442.22 40.16 L442.42 39.21 L442.63 38.27 L442.86 37.33 L443.10 36.40 L443.28 35.73 L443.47 35.06 L443.66 34.39 L443.86 33.71 L444.07 33.04 L444.28 32.37 L444.51 31.71 L444.74 31.05 L444.99 30.39 L445.24 29.74 L445.50 29.09 L445.78 28.45 L446.07 27.83 L446.36 27.21 L446.68 26.60 L447.00 26.00 L447.18 25.70 L447.37 25.38 L447.50 25.20" stroke="#0000ff" stroke-dasharray="13.70 20.60" stroke-dashoffset="25.31"/>
<path d="M447.50 25.20 L447.59 25.06 L447.83 24.73 L448.09 24.40 L448.35 24.07 L448.62 23.76 L448.90 23.46 L449.19 23.18 L449.47 22.93 L449.75 22.71 L450.02 22.53 L450.29 22.40 L450.54 22.31 L450.78 22.28 L451.00 22.30 L451.26 22.40 L451.51 22.57 L451.76 22.79 L452.01 23.06 L452.25 23.37 L452.49 23.73 L452.72 24.11 L452.95 24.52 L453.17 24.95 L453.39 25.39 L453.59 25.85 L453.79 26.30 L453.98 26.75 L454.17 27.18 L454.34 27.60 L454.50 28.00 L454.73 28.56 L454.94 29.13 L455.16 29.70 L455.36 30.28 L455.55 30.86 L455.74 31.44 L455.92 32.03 L456.09 32.62 L456.26 33.21 L456.42 33.81 L456.57 34.40 L456.71 35.00 L456.84 35.60 L456.97 36.20 L457.09 36.80 L457.20 37.40 L457.40 38.57 L457.59 39.74 L457.76 40.92 L457.91 42.10 L458.06 43.28 L458.20 44.46 L458.33 45.65 L458.46 46.83 L458.59 48.02 L458.72 49.21 L458.84 50.39 L458.98 51.58 L459.12 52.76 L459.27 53.94 L459.43 55.12 L459.60 56.30 L459.75 57.25 L459.91 58.19 L460.08 59.14 L460.26 60.08 L460.45 61.02 L460.64 61.96 L460.83 62.91 L461.02 63.85 L461.22 64.79 L461.41 65.73 L461.59 66.67 L461.77 67.61 L461.94 68.56 L462.11 69.50 L462.26 70.45 L462.40 71.40 L462.73 73.81 L463.06 76.21 L463.38 78.62 L463.70 81.03 L464.01 83.44 L464.31 85.86 L464.61 88.27 L464.90 90.68 L465.19 93.09 L465.48 95.51 L465.76 97.92 L466.04 100.34 L466.31 102.75 L466.58 105.17 L466.85 107.58 L467.12 110.00 L467.31 111.75 L467.49 113.49 L467.67 115.24 L467.85 116.99 L468.02 118.74 L468.18 120.49 L468.35 122.24 L468.51 123.99 L468.66 125.74 L468.82 127.49 L468.97 129.24 L469.13 131.00 L469.28 132.75 L469.43 134.50 L469.58 136.25 L469.73 138.00 L469.88 139.75 L470.03 141.50 L470.17 143.25 L470.32 145.00 L470.46 146.75 L470.60 148.50 L470.74 150.25 L470.88 152.00 L471.02 153.75 L471.15 155.50 L471.29 157.25 L471.42 159.00 L471.56 160.75 L471.69 162.50 L471.82 164.25 L471.96 166.00 L472.09 167.75 L472.22 169.50 L472.35 171.25 L472.48 173.00 L472.61 174.75 L472.73 176.50 L472.86 178.25 L472.99 180.00 L473.11 181.75 L473.24 183.50 L473.36 185.25 L473.49 187.00 L473.61 188.75 L473.74 190.50 L473.86 192.25 L473.99 194.00 L474.11 195.75 L474.23 197.50 L474.36 199.25 L474.48 201.00 L474.61 202.75 L474.73 204.50 L474.85 206.25 L474.97 208.00 L475.10 209.75 L475.22 211.50 L475.34 213.25 L475.46 215.00 L475.59 216.75 L475.71 218.50 L475.83 220.25 L475.96 222.00 L476.08 223.75 L476.21 225.50 L476.33 227.25 L476.45 229.00 L476.58 230.75 L476.70 232.50 L476.83 234.25 L476.95 236.00 L477.08 237.75 L477.20 239.50 L477.33 241.25 L477.45 243.00 L477.58 244.75 L477.71 246.50 L477.84 248.25 L477.96 250.00 L478.09 251.75 L478.22 253.50 L478.35 255.25 L478.48 257.00 L478.61 258.75 L478.74 260.50 L478.87 262.25 L479.00 264.00 L479.13 265.75 L479.26 267.50 L479.39 269.25 L479.53 271.00 L479.66 272.75 L479.79 274.50 L479.93 276.25 L480.06 278.00 L480.19 279.75 L480.33 281.50 L480.47 283.25 L480.60 285.00 L480.74 286.75 L480.88 288.50 L481.01 290.25 L481.15 292.00 L481.29 293.75 L481.43 295.50 L481.57 297.25 L481.71 299.00 L481.85 300.75 L481.99 302.50 L482.13 304.25 L482.28 306.00 L482.42 307.75 L482.56 309.50 L482.71 311.25 L482.85 313.00 L482.99 314.75 L483.14 316.50 L483.29 318.25 L483.43 320.00 L483.58 321.75 L483.73 323.50 L483.87 325.25 L484.02 327.00 L484.17 328.75 L484.32 330.50 L484.47 332.25 L484.62 334.00 L484.77 335.75 L484.92 337.50 L485.07 339.25 L485.23 341.00 L485.38 342.75 L485.53 344.50 L485.69 346.25 L485.84 348.00 L486.00 349.75 L486.15 351.50 L486.31 353.25 L486.46 355.00 L486.62 356.75 L486.78 358.50 L486.94 360.25 L487.09 362.00 L487.25 363.75 L487.41 365.50 L487.57 367.25 L487.73 369.00 L487.89 370.75 L488.05 372.50 L488.22 374.25 L488.38 376.00 L488.54 377.75 L488.70 379.50 L488.87 381.25 L489.03 383.00 L489.20 384.75 L489.36 386.50 L489.53 388.25 L489.69 390.00 L489.86 391.75 L490.03 393.50 L490.19 395.25 L490.36 397.00 L490.53 398.75 L490.70 400.50 L490.87 402.25 L491.04 404.00 L491.21 405.75 L491.38 407.50 L491.55 409.25 L491.72 411.00 L491.90 412.75 L492.07 414.50 L492.24 416.25 L492.42 418.00 L492.59 419.75 L492.77 421.50 L492.94 423.25 L493.12 425.00 L493.30 426.75 L493.47 428.50 L493.65 430.25 L493.83 432.00 L494.01 433.75 L494.19 435.50 L494.37 437.25 L494.55 439.00 L494.73 440.75 L494.92 442.50 L495.10 444.25 L495.28 446.00 L495.47 447.75 L495.65 449.50 L495.84 451.25 L496.03 453.00 L496.22 454.75 L496.40 456.50 L496.59 458.25 L496.78 460.00 L496.97 461.75 L497.16 463.50 L497.36 465.25 L497.55 467.00 L497.74 468.75 L497.94 470.50 L498.13 472.25 L498.33 474.00 L498.53 475.75 L498.73 477.50 L498.93 479.25 L499.13 481.00 L499.33 482.75 L499.53 484.50 L499.74 486.25 L499.94 488.00 L500.15 489.75 L500.36 491.50 L500.56 493.25 L500.77 495.00 L500.98 496.75 L501.20 498.50 L501.41 500.25 L501.63 502.00 L501.85 503.75 L502.06 505.50 L502.28 507.25 L502.51 509.00 L502.73 510.76 L502.95 512.51 L503.18 514.26 L503.40 516.01 L503.63 517.76 L503.86 519.51 L504.09 521.26 L504.32 523.01 L504.56 524.75 L504.80 526.50 L505.04 528.25 L505.28 530.00 L505.53 531.75 L505.77 533.50 L506.02 535.26 L506.27 537.01 L506.52 538.76 L506.78 540.51 L507.03 542.26 L507.29 544.01 L507.55 545.76 L507.81 547.51 L508.08 549.26 L508.34 551.01 L508.62 552.76 L508.89 554.51 L509.17 556.25 L509.45 558.00 L509.73 559.75 L510.02 561.51 L510.31 563.26 L510.60 565.01 L510.89 566.76 L511.19 568.52 L511.48 570.27 L511.79 572.02 L512.09 573.77 L512.40 575.52 L512.71 577.27 L513.03 579.02 L513.35 580.76 L513.67 582.51 L514.00 584.26 L514.33 586.00 L514.67 587.76 L515.02 589.51 L515.36 591.26 L515.72 593.02 L516.07 594.77 L516.43 596.52 L516.79 598.27 L517.16 600.02 L517.53 601.77 L517.90 603.52 L518.28 605.27 L518.66 607.02 L519.04 608.76 L519.43 610.51 L519.82 612.26 L520.21 614.00 L520.61 615.76 L520.99 617.52 L521.36 619.29 L521.73 621.05 L522.11 622.82 L522.48 624.59 L522.86 626.35 L523.24 628.11 L523.64 629.87 L524.06 631.63 L524.49 633.38 L524.94 635.12 L525.41 636.85 L525.91 638.58 L526.44 640.30 L527.00 642.00 L527.75 644.19 L528.50 646.39 L529.26 648.60 L530.03 650.80 L530.82 653.01 L531.62 655.21 L532.45 657.40 L533.30 659.57 L534.18 661.74 L535.09 663.88 L536.04 666.01 L537.02 668.11 L538.04 670.18 L539.11 672.22 L540.23 674.23 L541.40 676.20 L542.45 677.88 L543.54 679.55 L544.68 681.21 L545.85 682.85 L547.07 684.48 L548.32 686.09 L549.60 687.66 L550.92 689.21 L552.28 690.73 L553.67 692.21 L555.09 693.65 L556.53 695.04 L558.01 696.39 L559.51 697.68 L561.04 698.92 L562.60 700.10 L563.93 701.04 L565.32 701.93 L566.74 702.78 L568.21 703.59 L569.72 704.35 L571.25 705.07 L572.82 705.75 L574.40 706.38 L576.01 706.98 L577.63 707.52 L579.00 707.95" stroke="#0000ff" stroke-dasharray="13.70 20.60" stroke-dashoffset="26.58"/>
<path d="M589.33 710.15 L590.64 710.27 L592.27 710.34 L593.92 710.35 L595.58 710.30 L597.24 710.21 L598.91 710.08 L600.58 709.92 L602.26 709.74 L602.66 709.70" stroke="#0000ff"/>
<path d="M612.24 708.70 L612.33 708.69 L614.00 708.60 L615.87 708.52 L617.75 708.43 L619.63 708.33 L621.50 708.24 L623.38 708.14 L624.85 708.07" stroke="#0000ff"/>
<path d="M645.54 707.68 L645.76 707.73 L646.20 707.83 L646.64 707.95 L647.07 708.08 L647.51 708.21 L647.95 708.34 L648.38 708.46 L648.82 708.58 L649.25 708.68 L649.69 708.77 L650.12 708.84 L650.56 708.88 L651.00 708.90 L651.54 708.89 L652.09 708.88 L652.64 708.84 L653.19 708.80 L653.74 708.75 L654.29 708.68 L654.84 708.61 L655.39 708.52 L655.94 708.43 L656.48 708.32 L657.03 708.21 L657.57 708.08 L658.11 707.95 L658.43 707.87" stroke="#0000ff"/>
<path d="M674.42 701.42 L674.66 701.26 L675.17 700.91 L675.67 700.55 L676.17 700.16 L676.65 699.76 L677.13 699.36 L677.61 698.95 L678.09 698.53 L678.56 698.12 L679.04 697.71 L679.52 697.30 L680.00 696.91 L680.49 696.52 L680.99 696.15 L681.50 695.80 L681.64 695.71 L681.78 695.63 L681.93 695.55 L682.08 695.47 L682.23 695.40 L682.39 695.34 L682.55 695.28 L682.71 695.22 L682.87 695.17 L683.03 695.13 L683.20 695.09 L683.36 695.06 L683.52 695.03 L683.68 695.01 L683.84 695.00 L684.00 695.00 L684.17 695.00 L684.34 695.01 L684.52 695.03 L684.69 695.05 L684.87 695.08 L685.04 695.12 L685.22 695.16 L685.40 695.21 L685.57 695.26 L685.74 695.32 L685.91 695.38 L686.08 695.46 L686.24 695.53 L686.26 695.54" stroke="#0000ff"/>
<path d="M702.06 706.85 L702.33 706.97 L703.16 707.30 L704.01 707.61 L704.88 707.89 L705.75 708.15 L706.63 708.40 L707.52 708.63 L708.41 708.86 L709.31 709.09 L710.20 709.31 L711.09 709.54 L711.98 709.78 L712.86 710.04 L713.04 710.09" stroke="#0000ff"/>
<path d="M729.05 716.49 L729.47 716.71 L730.34 717.21 L731.20 717.74 L732.06 718.27 L732.91 718.82 L733.77 719.36 L734.62 719.90 L735.48 720.43 L736.34 720.95 L737.20 721.44 L738.08 721.90 L738.96 722.32 L739.86 722.70 L740.62 722.97" stroke="#0000ff"/>
<path d="M761.34 724.33 L761.85 724.38 L762.78 724.50 L763.70 724.62 L764.63 724.75 L765.55 724.89 L766.47 725.03 L767.40 725.17 L768.32 725.31 L769.24 725.44 L770.17 725.57 L771.09 725.68 L772.02 725.79 L772.94 725.88 L773.35 725.91" stroke="#0000ff"/>
<path d="M795.05 726.04 L795.27 726.03 L796.85 726.02 L798.42 726.00 L800.00 726.00 L801.88 726.00 L803.75 726.01 L805.63 726.03 L807.50 726.05 L808.15 726.05" stroke="#0000ff"/>
<path d="M829.55 726.01 L830.00 726.00 L831.01 725.97 L832.02 725.94 L833.03 725.91 L834.05 725.88 L835.07 725.85 L836.09 725.81 L837.11 725.76 L838.13 725.70 L839.14 725.62 L840.15 725.53 L841.15 725.42 L842.14 725.29 L842.99 725.15" stroke="#0000ff"/>
<path d="M858.33 711.46 L858.62 710.82 L858.99 709.97 L859.34 709.11 L859.68 708.24 L860.02 707.37 L860.35 706.50 L860.68 705.62 L861.01 704.75 L861.35 703.88 L861.70 703.02 L862.07 702.17 L862.46 701.33 L862.72 700.80" stroke="#0000ff"/>
<path d="M877.11 709.92 L877.29 710.83 L877.50 711.88 L877.69 712.93 L877.88 713.98 L878.06 715.04 L878.24 716.10 L878.42 717.16 L878.59 718.21 L878.77 719.27 L878.96 720.32 L879.15 721.37 L879.36 722.42 L879.57 723.46 L879.67 723.89" stroke="#0000ff"/>
<path d="M897.25 726.19 L898.09 726.17 L899.55 726.14 L901.00 726.12 L902.45 726.11 L903.90 726.10" stroke="#0000ff"/>
</g>
</g>
<g stroke="#000" stroke-width="2.5" fill="none" stroke-linecap="butt">
<line x1="16.1" y1="14.2" x2="16.1" y2="734.45"/>
<line x1="14.85" y1="733.2" x2="905.2" y2="733.2"/>
<line x1="45.88" y1="733.2" x2="45.88" y2="740.3"/>
<line x1="341.68" y1="733.2" x2="341.68" y2="740.3"/>
<line x1="637.48" y1="733.2" x2="637.48" y2="740.3"/>
<line x1="193.78" y1="733.2" x2="193.78" y2="747"/>
<line x1="489.58" y1="733.2" x2="489.58" y2="747"/>
<line x1="785.38" y1="733.2" x2="785.38" y2="747"/>
</g>
<g font-size="30.5">
<text x="193.78" y="780.6" text-anchor="middle">10</text>
<text x="489.58" y="780.6" text-anchor="middle">15</text>
<text x="785.38" y="780.6" text-anchor="middle">20</text>
</g>
<text x="460" y="830.6" font-size="30.5" text-anchor="middle">Retention time [min]</text>
<g fill="none" stroke-width="3.6" stroke-linecap="round">
<line x1="41.8" y1="53.7" x2="109.1" y2="53.7" stroke="#000"/>
<line x1="41.8" y1="91.3" x2="109.1" y2="91.3" stroke="#ff0000" stroke-dasharray="13.9 20.4"/>
<line x1="41.8" y1="128.9" x2="109.1" y2="128.9" stroke="#0000ff" stroke-dasharray="13.9 20.4"/>
</g>
<g font-size="30.1">
<text x="118" y="64.4">PCL</text>
<text x="118" y="101.9">PCL-0.5L</text>
<text x="118" y="139.2">PCL-0.5Lw</text>
</g>
</svg>
</body></html>
